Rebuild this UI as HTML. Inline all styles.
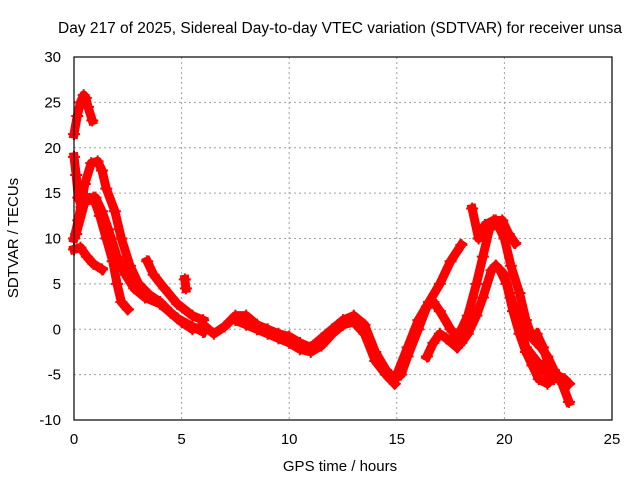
<!DOCTYPE html>
<html><head><meta charset="utf-8"><style>
body{margin:0;background:#fff}
svg{display:block;font-family:"Liberation Sans",Arial,sans-serif}
</style></head><body>
<svg width="640" height="480" viewBox="0 0 640 480">
<rect width="640" height="480" fill="#fff"/>
<text x="340" y="33" font-size="15.5" text-anchor="middle">Day 217 of 2025, Sidereal Day-to-day VTEC variation (SDTVAR) for receiver unsa</text>
<g id="grid"></g>
<g id="series"></g>
<rect x="74" y="57" width="538" height="363" fill="none" stroke="#000" stroke-width="1.2"/>
<g id="ticks" font-size="15"></g>
<text x="340" y="471" font-size="15" text-anchor="middle">GPS time / hours</text>
<text transform="translate(18,238) rotate(-90)" font-size="15" text-anchor="middle">SDTVAR / TECUs</text>
</svg>
<script>
const xTicks=[0,5,10,15,20,25];
const yTicks=[-10,-5,0,5,10,15,20,25,30];
const trace1=[[0,21.5],[0.15,23.5],[0.3,25],[0.45,25.8],[0.55,25.5],[0.65,24.5],[0.85,23]];
const trace2=[[0,19],[0.1,17],[0.2,14.5],[0.35,13.5],[0.6,14.5],[0.9,14.5],[1.2,12.5],[1.5,10],[1.8,7.5],[2.0,5],[2.2,3],[2.5,2.2]];
const trace3=[[0,10],[0.2,12],[0.5,16],[0.8,18.3],[1.1,18.5],[1.3,17.5],[1.5,15.5],[1.9,13],[2.2,10],[2.6,7],[3.0,5],[3.5,3.8],[4,3],[4.5,1.8],[5,0.8],[5.5,0],[6,0.3]];
const trace4=[[0,8.8],[0.3,9],[0.6,8],[0.9,7.2],[1.3,6.6]];
const trace5=[[0.1,10.5],[0.5,14],[1.0,14.5],[1.3,13],[1.6,11],[2.0,8],[2.4,6],[2.8,4.5],[3.3,3.5],[4,2.8],[4.8,1.2],[5.5,0.3],[6,-0.3]];
const trace6=[[3.4,7.5],[3.7,6],[4.2,4.5],[4.8,2.8],[5.5,1.5],[6,1]];
const trace7=[[5.15,5.5],[5.2,4.5]];
const trace8=[[6,0.5],[6.5,-0.5],[7,0.3],[7.5,1.5],[8,1.5],[8.5,0.5],[9,0],[9.5,-0.5],[10,-0.8],[10.5,-1.5],[11,-2],[11.5,-1],[12,0],[12.5,1],[13,1.5],[13.5,0.5],[14,-2.5],[14.5,-4.5],[14.9,-5.5],[15.2,-5],[15.5,-3],[16,0],[16.4,2.5],[16.7,3],[17,2],[17.5,0],[18,-1.5],[18.3,-0.5],[18.7,1.5],[19,3.5],[19.4,6.5],[19.6,7],[20,6],[20.3,3.5],[20.7,0.5],[21,-2],[21.5,-3.5],[22,-5],[22.5,-5.5],[22.9,-6]];
const trace9=[[7.5,1],[8,0.5],[8.5,0],[9,-0.5],[9.5,-1],[10,-1.5],[10.5,-2.2],[11,-2.5],[11.5,-1.8],[12,-0.5],[12.5,0.5],[13,0.8],[13.5,-0.5],[14,-3.5],[14.5,-5],[14.9,-6]];
const trace10=[[15,-5],[15.5,-2],[16,1],[16.5,3],[17,5],[17.5,7.5],[18,9.3]];
const trace11=[[16.4,-3],[16.7,-1.5],[17,-0.5],[17.3,-1],[17.8,-2]];
const trace12=[[18.5,13.3],[18.8,10],[19.1,11.5],[19.5,12],[19.9,12],[20.2,10.5],[20.5,9.5]];
const trace13=[[17.8,-1],[18.3,1.5],[18.7,5],[19,8],[19.3,11],[19.6,12],[20,10],[20.3,7],[20.7,4],[21,1],[21.3,-1],[21.7,-2],[22,-3],[22.3,-4.5],[22.6,-5.5],[23,-8]];
const trace14=[[21.5,-0.5],[21.8,-2],[22,-3.5],[22.3,-5.5]];
const trace15=[[19.6,7],[19.8,6.5],[20.1,5],[20.4,2],[20.7,-0.5],[21,-2.5],[21.3,-4],[21.6,-5.5],[22,-6],[22.4,-5],[22.8,-5.5],[23,-6]];
const allTraces=[trace1,trace2,trace3,trace4,trace5,trace6,trace7,trace8,trace9,trace10,trace11,trace12,trace13,trace14,trace15];
const X0=74,X1=612,Y0=420,Y1=57;
function sx(t){return X0+(t-0)/(25-0)*(X1-X0);}
function sy(v){return Y0-(v+10)/(30+10)*(Y0-Y1);}
const NS='http://www.w3.org/2000/svg';
const grid=document.getElementById('grid'),ticks=document.getElementById('ticks'),ser=document.getElementById('series');
xTicks.forEach(t=>{
 const x=sx(t);
 if(t>0&&t<25){const l=document.createElementNS(NS,'line');
 l.setAttribute('x1',x);l.setAttribute('x2',x);l.setAttribute('y1',Y1);l.setAttribute('y2',Y0);
 l.setAttribute('stroke','#a0a0a0');l.setAttribute('stroke-dasharray','2,3');
 
 
 grid.appendChild(l);}
 const tx=document.createElementNS(NS,'text');
 tx.setAttribute('x',x);tx.setAttribute('y',444);tx.setAttribute('text-anchor','middle');tx.textContent=t;
 
 
 ticks.appendChild(tx);
});
yTicks.forEach(v=>{
 const y=sy(v);
 if(v>-10&&v<30){const l=document.createElementNS(NS,'line');
 l.setAttribute('x1',X0);l.setAttribute('x2',X1);l.setAttribute('y1',y);l.setAttribute('y2',y);
 l.setAttribute('stroke','#a0a0a0');l.setAttribute('stroke-dasharray','2,3');
 
 
 grid.appendChild(l);}
 const tx=document.createElementNS(NS,'text');
 tx.setAttribute('x',61);tx.setAttribute('y',y+5);tx.setAttribute('text-anchor','end');tx.textContent=v;
 
 
 ticks.appendChild(tx);
});
allTraces.forEach((tr,i)=>{
 const p=document.createElementNS(NS,'polyline');
 p.setAttribute('points',tr.map(d=>sx(d[0])+','+sy(d[1])).join(' '));
 p.setAttribute('fill','none');p.setAttribute('stroke','#ff0000');p.setAttribute('stroke-width','9');
 p.setAttribute('stroke-linejoin','round');p.setAttribute('stroke-linecap','square');
 
 
 ser.appendChild(p);
 tr.forEach(d=>{
  const m=document.createElementNS(NS,'path');
  const x=sx(d[0]),y=sy(d[1]);
  m.setAttribute('d',`M${x-6},${y}H${x+6}M${x},${y-6}V${y+6}`);
  m.setAttribute('stroke','#ff0000');m.setAttribute('stroke-width','2');
  
  
  ser.appendChild(m);
 });
});
</script>
</body></html>
